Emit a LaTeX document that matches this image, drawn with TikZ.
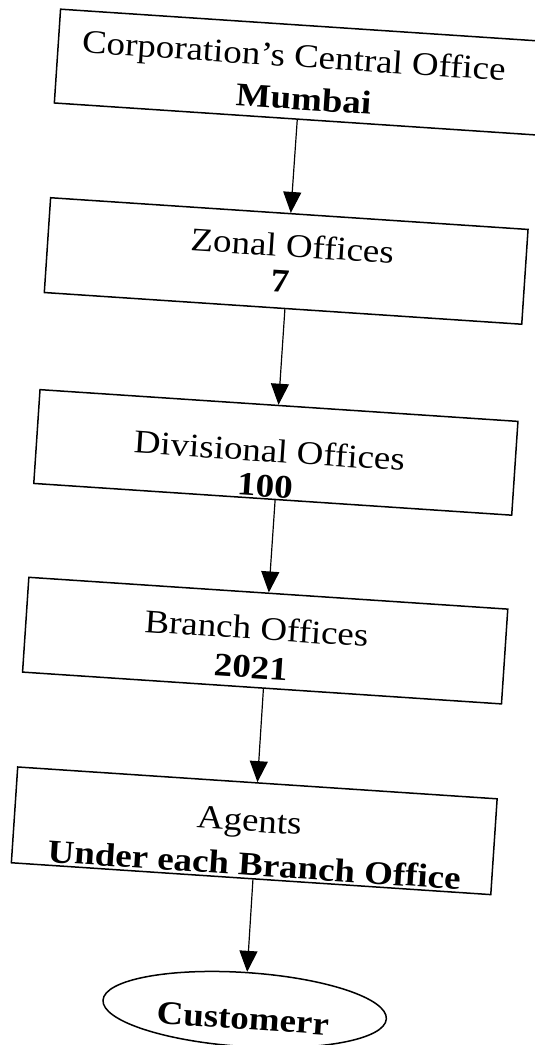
\documentclass[tikz,border=0pt]{standalone}
\usepackage{fontspec}
\setmainfont{Liberation Serif}[FakeStretch=1.12]
\usetikzlibrary{arrows.meta,shapes.geometric,calc}

\begin{document}
\begin{tikzpicture}[x=1pt,y=-1pt,
  box/.style={draw, line width=1.5pt, minimum width=#1, minimum height=95pt, inner sep=0pt},
  box/.default=480pt,
  oval/.style={draw, ellipse, line width=1.5pt, minimum width=284pt, minimum height=74pt, inner sep=0pt},
  lbl/.style={anchor=base, inner sep=0pt, font=\fontsize{33}{38}\selectfont},
  lblb/.style={anchor=base, inner sep=0pt, font=\fontsize{33}{38}\selectfont\bfseries},
  arr/.style={line width=1.2pt, -{Triangle[length=21pt,width=18pt]}}]

\useasboundingbox (0,0) rectangle (535,1045);
\clip (0,0) rectangle (535,1045);

\begin{scope}[rotate around={-3.8:(267.5,522.5)}, transform shape]
  % office boxes, top to bottom
  \node[box=488pt, minimum height=94pt] (central) at (271,71) {};
  \node[box=478.5pt] (zonal) at (268.8,260.3) {};
  \node[box=479pt, minimum height=94pt] (divisional) at (271.2,452) {};
  \node[box=480pt] (branch) at (273,640.5) {};
  \node[box=480.5pt, minimum height=96pt] (agents) at (274.7,831) {};
  \node[oval] (customer) at (277,1010) {};

  % box texts
  \node[lbl]  (centralA) at (263,66)     {Corporation’s Central Office};
  \node[lblb] (centralB) at (275.6,108.5) {Mumbai};
  \node[lbl]  (zonalA) at (274,256)      {Zonal Offices};
  \node[lblb] (zonalB) at (264,292)      {7};
  \node[lbl]  (divA) at (264.7,462)      {Divisional Offices};
  \node[lblb] (divB) at (262.6,497)      {100};
  \node[lbl]  (branchA) at (263.6,640)   {Branch Offices};
  \node[lblb] (branchB) at (260.6,679)   {2021};
  \node[lbl]  (agentsA) at (269.2,832)   {Agents};
  \node[lblb] (agentsB) at (277,876)     {Under each Branch Office};
  \node[lblb] (customerA) at (275.8,1030) {Customerr};

  % hierarchy arrows
  \draw[arr] ($(central.south west)!.499!(central.south east)$) -- ($(zonal.north west)!.503!(zonal.north east)$);
  \draw[arr] ($(zonal.south west)!.504!(zonal.south east)$) -- ($(divisional.north west)!.499!(divisional.north east)$);
  \draw[arr] ($(divisional.south west)!.505!(divisional.south east)$) -- ($(branch.north west)!.501!(branch.north east)$);
  \draw[arr] ($(branch.south west)!.503!(branch.south east)$) -- ($(agents.north west)!.5!(agents.north east)$);
  \draw[arr] ($(agents.south west)!.504!(agents.south east)$) -- (customer.north);
\end{scope}
\end{tikzpicture}
\end{document}
